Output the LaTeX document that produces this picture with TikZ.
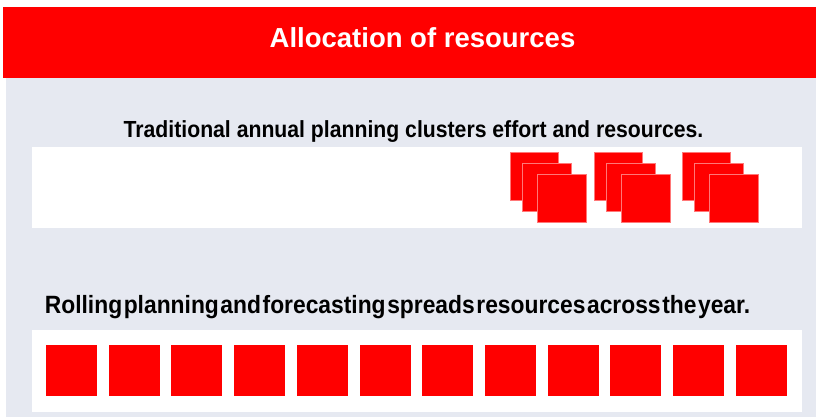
\documentclass[tikz,border=0pt]{standalone}
\usepackage{fontspec}
\setmainfont{Liberation Sans}
\newfontfamily\titlefont{Liberation Sans}
\newfontfamily\narrowfont[FakeStretch=0.91]{Liberation Sans}
\newfontfamily\tightfont[FakeStretch=0.913,WordSpace=0.25]{Liberation Sans}
\usepackage{xcolor}
\usepackage{tikz}
\usetikzlibrary{positioning}
\definecolor{allocred}{RGB}{255,0,0}
\definecolor{panelgray}{RGB}{230,233,241}
\definecolor{edgered}{RGB}{255,120,120}
\tikzstyle{band} = [rectangle, fill=white, draw=none, inner sep=0pt, minimum width=770pt, minimum height=81pt]
\tikzstyle{block} = [rectangle, fill=allocred, draw=edgered, line width=0.6pt, inner sep=0pt]

\begin{document}
\begin{tikzpicture}[
    x=1pt, y=-1pt,
    cell/.style={block, minimum size=51pt, draw=none},
    pile/.style={block, minimum size=48.5pt},
    caption/.style={anchor=base, inner sep=0pt, font=\bfseries}
]
\useasboundingbox (0,0) rectangle (816,417);

% Header and panel
\node[rectangle, fill=allocred, inner sep=0pt, minimum width=813pt, minimum height=71pt] (header) at (409.5,42.5) {};
\node[rectangle, fill=panelgray, inner sep=0pt, minimum width=810pt, minimum height=339pt] (panel) at (411,247.5) {};
\node[caption, text=white, font=\titlefont\bfseries\fontsize{27.5}{30}\selectfont] (title) at (422.5,48) {Allocation of resources};

% Annual planning
\node[caption, font=\narrowfont\bfseries\fontsize{23.3}{26}\selectfont] (annualtext) at (413.5,138) {Traditional annual planning clusters effort and resources.};
\node[band] (annual) at (417,187.5) {};
\foreach \gx/\n in {510/1, 594/2, 682/3} {
    \node[pile] (pile\n a) at (\gx+24.25,176.25) {};
    \node[pile] (pile\n b) at (\gx+12.5+24.25,187.25) {};
    \node[pile] (pile\n c) at (\gx+27.5+24.25,198.5) {};
}

% Rolling planning
\node[caption, font=\tightfont\bfseries\fontsize{25}{28}\selectfont] (rollingtext) at (397.5,313) {Rolling planning and forecasting spreads resources across the year.};
\node[band, minimum height=82pt] (rolling) at (417,371) {};
\foreach \i in {0,...,11} {
    \node[cell] (month\i) at (71.5+62.7*\i,370.5) {};
}

\end{tikzpicture}
\end{document}
